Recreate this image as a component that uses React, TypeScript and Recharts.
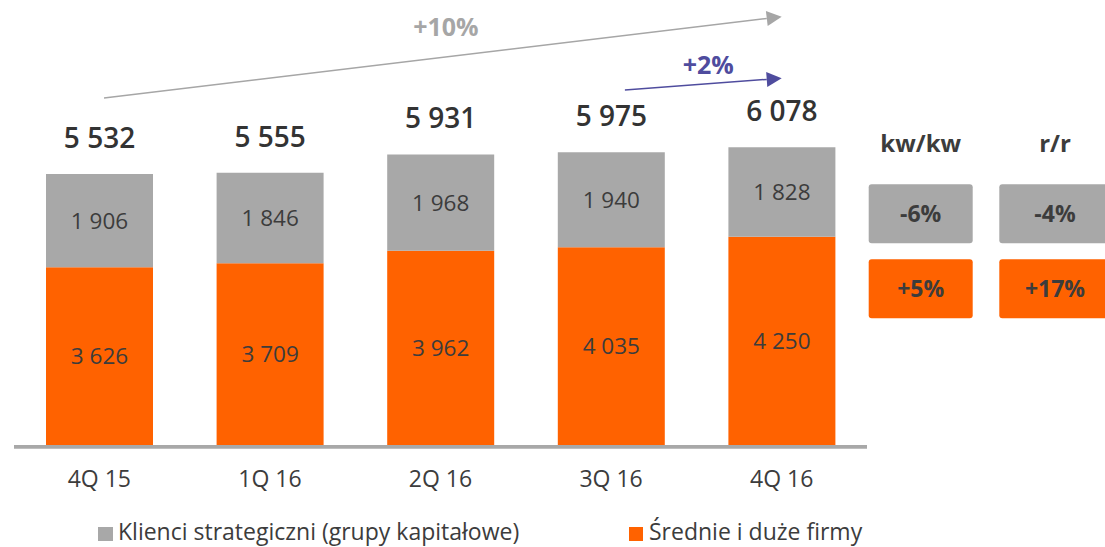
import React from 'react';
import {
  BarChart,
  Bar,
  XAxis,
  YAxis,
  LabelList,
  Legend,
  ReferenceLine,
  Customized,
} from 'recharts';

// ---------- data ----------
const quarters = ['4Q 15', '1Q 16', '2Q 16', '3Q 16', '4Q 16'];
const strategicClients = [1906, 1846, 1968, 1940, 1828];
const midLargeFirms = [3626, 3709, 3962, 4035, 4250];
const totals = [5532, 5555, 5931, 5975, 6078];

const seriesNames = ['Klienci strategiczni (grupy kapitałowe)', 'Średnie i duże firmy'];

const changeHeaders = ['kw/kw', 'r/r'];
const strategicChanges = ['-6%', '-4%'];
const midLargeChanges = ['+5%', '+17%'];

const longTrendLabel = '+10%';
const shortTrendLabel = '+2%';

// ---------- styles ----------
const GRAY = '#A8A8A8';
const ORANGE = '#FF6200';
const TEXT = '#3C3C3C';
const BLUE = '#4F4C9E';
const TREND_GRAY = '#A6A6A6';
const FONT = "'Open Sans', sans-serif";

const data = quarters.map((q, i) => ({
  quarter: q,
  midLarge: midLargeFirms[i],
  strategic: strategicClients[i],
  total: totals[i],
}));

const fmt = (v: any) => String(v).replace(/\B(?=(\d{3})+(?!\d))/g, ' ');

const makeArrow =
  (color: string, label: string, startShift: number, labelDx: number, labelDy: number, width: number) =>
  (p: any) => {
    const x1 = p.x1 + startShift;
    const y1 = p.y1;
    const x2 = p.x2;
    const y2 = p.y2;
    const dx = x2 - x1;
    const dy = y2 - y1;
    const len = Math.hypot(dx, dy) || 1;
    const ux = dx / len;
    const uy = dy / len;
    const head = 15;
    const half = 7.5;
    const bx = x2 - ux * head;
    const by = y2 - uy * head;
    const pts = `${x2},${y2} ${bx - uy * half},${by + ux * half} ${bx + uy * half},${by - ux * half}`;
    return (
      <g>
        <line x1={x1} y1={y1} x2={bx} y2={by} stroke={color} strokeWidth={width} />
        <polygon points={pts} fill={color} />
        <text
          x={(x1 + x2) / 2 + labelDx}
          y={(y1 + y2) / 2 - labelDy + 9}
          textAnchor="middle"
          fontSize={25}
          fontWeight={700}
          fill={color}
          fontFamily={FONT}
        >
          {label}
        </text>
      </g>
    );
  };

const baselineShape = (p: any) => (
  <line x1={p.x1} x2={p.x2} y1={p.y1 + 1.8} y2={p.y2 + 1.8} stroke={GRAY} strokeWidth={3.7} />
);

const colBoxX = [868.7, 999.3];
const colBoxW = [104, 112];
const colText = [920.7, 1055];
const rowBoxY = [184.3, 259.3];
const BOX_H = 59;

const SideTable = () => (
  <g fontFamily={FONT}>
    {changeHeaders.map((h, i) => (
      <text key={h} x={colText[i]} y={151.5} textAnchor="middle" fontSize={24} fontWeight={700} fill={TEXT}>
        {h}
      </text>
    ))}
    {[strategicChanges, midLargeChanges].map((row, r) =>
      row.map((v, c) => (
        <g key={`${r}-${c}`}>
          <rect x={colBoxX[c]} y={rowBoxY[r]} width={colBoxW[c]} height={BOX_H} rx={3} ry={3} fill={r === 0 ? GRAY : ORANGE} />
          <text
            x={colText[c]}
            y={rowBoxY[r] + BOX_H / 2 + 8.3}
            textAnchor="middle"
            fontSize={23}
            fontWeight={700}
            fill={TEXT}
          >
            {v}
          </text>
        </g>
      ))
    )}
  </g>
);

const LegendContent = () => (
  <div style={{ position: 'relative', width: 1105, height: 37, fontFamily: FONT }}>
    <div style={{ position: 'absolute', left: 98, top: 16.7, width: 14.5, height: 14, background: GRAY }} />
    <span
      style={{ position: 'absolute', left: 118, top: 6, fontSize: 23, lineHeight: '31px', color: TEXT, whiteSpace: 'nowrap' }}
    >
      {seriesNames[0]}
    </span>
    <div style={{ position: 'absolute', left: 629.3, top: 16.7, width: 14, height: 14, background: ORANGE }} />
    <span
      style={{ position: 'absolute', left: 649, top: 6, fontSize: 23, lineHeight: '31px', color: TEXT, whiteSpace: 'nowrap' }}
    >
      {seriesNames[1]}
    </span>
  </div>
);

export default function App() {
  return (
    <div style={{ position: 'absolute', left: 0, top: 0, width: 1105, height: 547, background: '#fff', fontFamily: FONT }}>
      <BarChart
        width={1105}
        height={547}
        data={data}
        margin={{ top: 53, right: 238, left: 14, bottom: 0 }}
        barSize={107}
      >
        <YAxis hide domain={[0, 8000]} type="number" allowDataOverflow />
        <XAxis
          dataKey="quarter"
          height={65}
          axisLine={false}
          tickLine={false}
          tickSize={0}
          tickMargin={26}
          tick={{ fontSize: 23, fill: TEXT, fontFamily: FONT }}
        />
        <Legend
          verticalAlign="bottom"
          content={<LegendContent />}
          wrapperStyle={{ left: 0, bottom: 0, width: 1105, height: 37 }}
        />
        <Bar dataKey="midLarge" name={seriesNames[1]} stackId="a" fill={ORANGE} isAnimationActive={false}>
          <LabelList dataKey="midLarge" position="center" formatter={fmt} fill={TEXT} fontSize={22.5} fontFamily={FONT} />
        </Bar>
        <Bar dataKey="strategic" name={seriesNames[0]} stackId="a" fill={GRAY} isAnimationActive={false}>
          <LabelList dataKey="strategic" position="center" formatter={fmt} fill={TEXT} fontSize={22.5} fontFamily={FONT} />
          <LabelList
            dataKey="total"
            position="top"
            offset={26}
            formatter={fmt}
            fill="#333333"
            fontSize={28}
            fontWeight={600}
            fontFamily={FONT}
          />
        </Bar>
        <ReferenceLine y={0} ifOverflow="visible" shape={baselineShape} />
        <ReferenceLine
          segment={[
            { x: quarters[0], y: 7082 },
            { x: quarters[4], y: 8741 },
          ]}
          ifOverflow="visible"
          shape={makeArrow(TREND_GRAY, longTrendLabel, 4.7, 3, 30, 1.4)}
        />
        <ReferenceLine
          segment={[
            { x: quarters[3], y: 7245 },
            { x: quarters[4], y: 7484 },
          ]}
          ifOverflow="visible"
          shape={makeArrow(BLUE, shortTrendLabel, 13.8, 5, 19, 1.5)}
        />
        <Customized component={SideTable} />
      </BarChart>
    </div>
  );
}
